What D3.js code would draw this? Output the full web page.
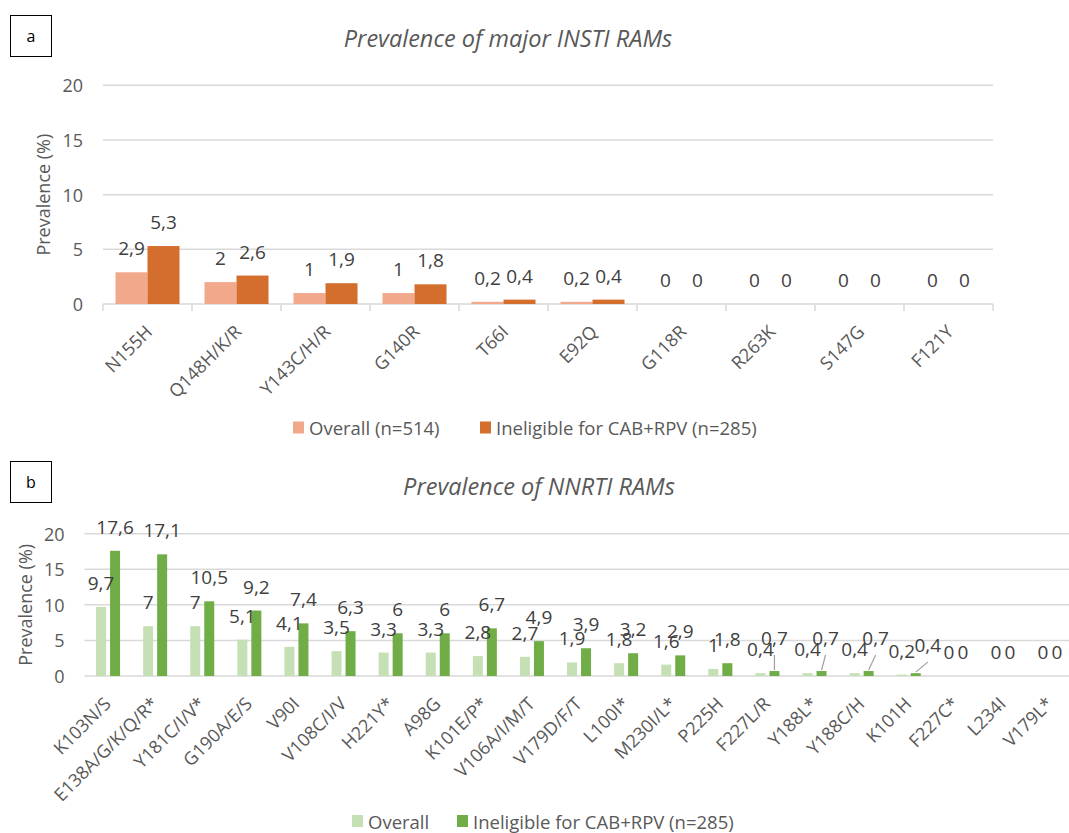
<!DOCTYPE html>
<html>
<head>
<meta charset="utf-8">
<script src="https://cdn.jsdelivr.net/npm/d3@7"></script>
<style>
  body { margin: 0; background: #fff; }
  svg { display: block; font-family: "Open Sans", sans-serif; }
</style>
</head>
<body>
<svg id="chart" width="1069" height="833"></svg>
<script>
// Panel a data
const instiCategories = ["N155H", "Q148H/K/R", "Y143C/H/R", "G140R", "T66I", "E92Q", "G118R", "R263K", "S147G", "F121Y"];
const instiOverall = [2.9, 2, 1, 1, 0.2, 0.2, 0, 0, 0, 0];
const instiIneligible = [5.3, 2.6, 1.9, 1.8, 0.4, 0.4, 0, 0, 0, 0];
const instiSeries = ["Overall (n=514)", "Ineligible for CAB+RPV (n=285)"];

// Panel b data
const nnrtiCategories = ["K103N/S", "E138A/G/K/Q/R*", "Y181C/I/V*", "G190A/E/S", "V90I", "V108C/I/V", "H221Y*", "A98G", "K101E/P*", "V106A/I/M/T", "V179D/F/T", "L100I*", "M230I/L*", "P225H", "F227L/R", "Y188L*", "Y188C/H", "K101H", "F227C*", "L234I", "V179L*"];
const nnrtiOverall = [9.7, 7, 7, 5.1, 4.1, 3.5, 3.3, 3.3, 2.8, 2.7, 1.9, 1.8, 1.6, 1, 0.4, 0.4, 0.4, 0.2, 0, 0, 0];
const nnrtiIneligible = [17.6, 17.1, 10.5, 9.2, 7.4, 6.3, 6, 6, 6.7, 4.9, 3.9, 3.2, 2.9, 1.8, 0.7, 0.7, 0.7, 0.4, 0, 0, 0];
const nnrtiSeries = ["Overall", "Ineligible for CAB+RPV (n=285)"];

const yTicks = [0, 5, 10, 15, 20];

const svg = d3.select("#chart");
const fmt = (v) => String(v).replace(".", ",");

const drawPanel = (cfg) => {
  const g = svg.append("g");
  const x = d3.scaleBand().domain(cfg.categories).range([cfg.left, cfg.right]);
  const y = d3.scaleLinear().domain([0, 20]).range([cfg.bottom, cfg.top]);
  const sub = d3.scaleBand().domain([0, 1]).range([0, x.bandwidth()])
    .paddingInner(cfg.innerPad).paddingOuter(cfg.outerPad);

  // Letter box
  g.append("rect")
    .attr("x", 10.5).attr("y", cfg.boxY + 0.5)
    .attr("width", 41).attr("height", 41)
    .attr("fill", "none").attr("stroke", "#000").attr("stroke-width", 1);
  g.append("text")
    .attr("x", 31).attr("y", cfg.boxY + 21)
    .attr("text-anchor", "middle").attr("dominant-baseline", "central")
    .attr("font-size", 16).attr("fill", "#000")
    .text(cfg.letter);

  // Title
  g.append("text")
    .attr("x", cfg.titleX).attr("y", cfg.titleY)
    .attr("text-anchor", "middle").attr("dominant-baseline", "central")
    .attr("font-size", 23.5).attr("font-style", "italic").attr("fill", "#595959")
    .text(cfg.title);

  // Gridlines
  g.selectAll(".grid")
    .data(yTicks)
    .join("line")
    .attr("x1", cfg.left).attr("x2", cfg.right)
    .attr("y1", (d) => y(d)).attr("y2", (d) => y(d))
    .attr("stroke", "#d9d9d9").attr("stroke-width", 1.5);

  // Y tick labels
  g.selectAll(".ytick")
    .data(yTicks)
    .join("text")
    .attr("x", cfg.left - 20).attr("y", (d) => y(d))
    .attr("text-anchor", "end").attr("dominant-baseline", "central")
    .attr("font-size", 18).attr("fill", "#595959")
    .text((d) => d);

  // Y axis title
  g.append("text")
    .attr("transform", `translate(${cfg.yTitleX},${(cfg.top + cfg.bottom) / 2}) rotate(-90)`)
    .attr("text-anchor", "middle").attr("dominant-baseline", "central")
    .attr("font-size", 18).attr("fill", "#595959")
    .text("Prevalence (%)");

  // Category tick marks
  if (cfg.tickMarks) {
    g.selectAll(".xtick")
      .data(d3.range(cfg.categories.length + 1))
      .join("line")
      .attr("x1", (i) => cfg.left + i * x.step()).attr("x2", (i) => cfg.left + i * x.step())
      .attr("y1", cfg.bottom).attr("y2", cfg.bottom + 7)
      .attr("stroke", "#d9d9d9").attr("stroke-width", 1.5);
  }

  // Bars
  const rows = [];
  cfg.categories.forEach((c, i) => {
    cfg.values.forEach((vals, s) => rows.push({ c, s, v: vals[i] }));
  });

  g.selectAll(".bar")
    .data(rows)
    .join("rect")
    .attr("x", (d) => x(d.c) + sub(d.s))
    .attr("width", sub.bandwidth())
    .attr("y", (d) => y(d.v))
    .attr("height", (d) => y(0) - y(d.v))
    .attr("fill", (d) => cfg.colors[d.s]);

  // Data labels (some moved, with leader lines)
  const nudge = (d) => cfg.nudges.find((n) => n.c === d.c && n.s === d.s);
  rows.forEach((d) => {
    const bx = x(d.c) + sub(d.s) + sub.bandwidth() / 2;
    const n = nudge(d);
    const lx = bx + (n ? n.dx : 0);
    const ly = y(d.v) - 17 + (n ? n.dy : 0);
    if (n) {
      g.append("line")
        .attr("x1", lx).attr("y1", ly + 10)
        .attr("x2", bx).attr("y2", y(d.v) - 1)
        .attr("stroke", "#a0a0a0").attr("stroke-width", 1.2);
    }
    g.append("text")
      .attr("x", lx).attr("y", ly)
      .attr("text-anchor", "middle")
      .attr("font-size", 19).attr("fill", "#404040")
      .text(fmt(d.v));
  });

  // Category labels
  g.selectAll(".xlab")
    .data(cfg.categories)
    .join("text")
    .attr("transform", (d) => `translate(${x(d) + x.bandwidth() / 2 + cfg.labDx},${cfg.bottom + cfg.labDy}) rotate(-45)`)
    .attr("text-anchor", "end")
    .attr("font-size", 18).attr("fill", "#595959")
    .text((d) => d);

  // Legend
  const leg = g.append("g");
  cfg.series.forEach((name, s) => {
    leg.append("rect")
      .attr("x", cfg.legend[s]).attr("y", cfg.legendY - 6)
      .attr("width", 11).attr("height", 12)
      .attr("fill", cfg.colors[s]);
    leg.append("text")
      .attr("x", cfg.legend[s] + 16).attr("y", cfg.legendY)
      .attr("dominant-baseline", "central")
      .attr("font-size", 18.5).attr("fill", "#595959")
      .text(name);
  });
};

drawPanel({
  letter: "a", boxY: 15,
  title: "Prevalence of major INSTI RAMs", titleX: 508, titleY: 38,
  categories: instiCategories, values: [instiOverall, instiIneligible], series: instiSeries,
  colors: ["#f2a88b", "#d46e2c"],
  left: 103, right: 993, top: 85.3, bottom: 304,
  innerPad: 0, outerPad: 0.39,
  yTitleX: 43, tickMarks: true,
  labDx: 6, labDy: 29,
  nudges: [],
  legend: [293, 480], legendY: 427.5
});

drawPanel({
  letter: "b", boxY: 461,
  title: "Prevalence of NNRTI RAMs", titleX: 539, titleY: 486,
  categories: nnrtiCategories, values: [nnrtiOverall, nnrtiIneligible], series: nnrtiSeries,
  colors: ["#c5e0b4", "#70ad47"],
  left: 84.5, right: 84.5 + 21 * 47.1, top: 533.7, bottom: 676,
  innerPad: 0.2857, outerPad: 0.825,
  yTitleX: 25, tickMarks: false,
  labDx: 4, labDy: 29,
  nudges: [
    { c: "F227L/R", s: 1, dx: 0, dy: -9 },
    { c: "Y188L*", s: 1, dx: 4, dy: -9 },
    { c: "Y188C/H", s: 1, dx: 7, dy: -9 },
    { c: "K101H", s: 1, dx: 12, dy: -4 }
  ],
  legend: [352, 457], legendY: 821
});
</script>
</body>
</html>
